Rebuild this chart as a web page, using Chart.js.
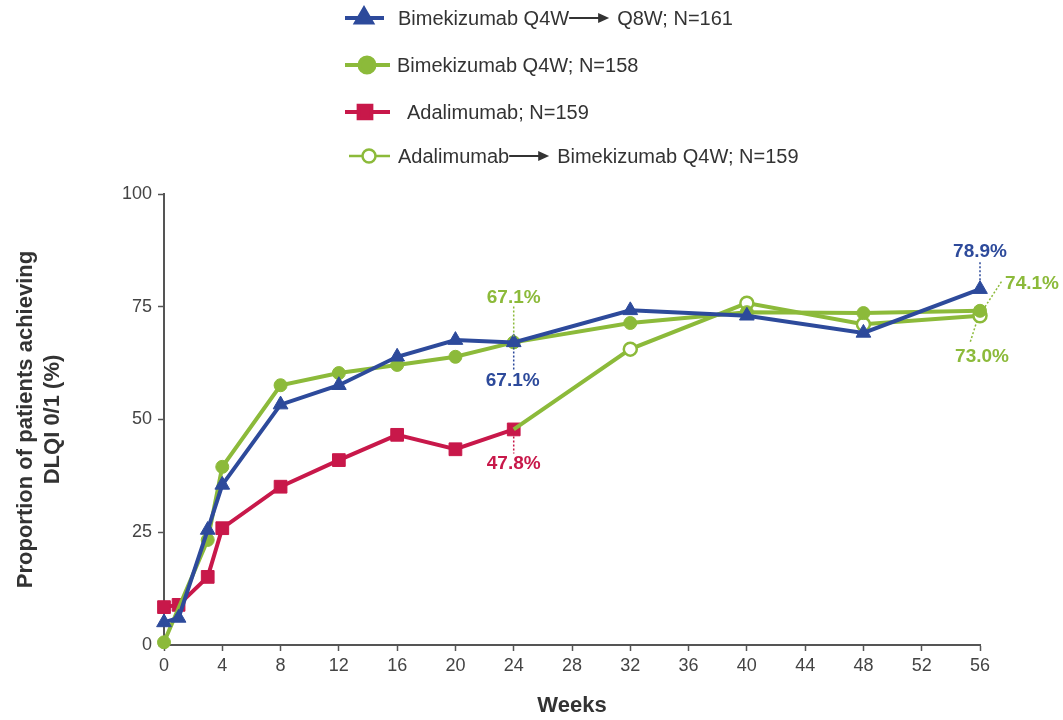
<!DOCTYPE html>
<html lang="en">

<head>
    <meta charset="UTF-8">
    <title>DLQI 0/1</title>
    <script src="https://cdn.jsdelivr.net/npm/chart.js@4.4.1/dist/chart.umd.min.js"></script>
    <style>
        body { margin: 0; background: #fff; }
        #wrap { width: 1063px; height: 720px; }
    </style>
</head>

<body>
    <div id="wrap"><canvas id="mychart" width="1063" height="720"></canvas></div>

    <script>
        // weeks and values
        const weeksBkz = [0, 1, 3, 4, 8, 12, 16, 20, 24, 32, 40, 48, 56];
        const bkzQ8 = [5.0, 6.0, 25.5, 35.5, 53.3, 57.6, 63.9, 67.6, 67.1, 74.2, 73.0, 69.2, 78.9];

        const weeksBkzQ4 = [0, 3, 4, 8, 12, 16, 20, 24, 32, 40, 48, 56];
        const bkzQ4 = [0.6, 23.3, 39.5, 57.6, 60.3, 62.1, 63.9, 67.1, 71.4, 73.8, 73.6, 74.1];

        const weeksAda = [0, 1, 3, 4, 8, 12, 16, 20, 24];
        const ada = [8.4, 8.9, 15.1, 25.9, 35.1, 41.0, 46.6, 43.4, 47.8];

        // switch arm starts from the adalimumab week-24 value
        const weeksSwitch = [24, 32, 40, 48, 56];
        const adaToBkz = [47.8, 65.6, 75.8, 71.1, 73.0];

        const seriesNames = ['Bimekizumab Q4W', 'Bimekizumab Q4W; N=158', 'Adalimumab; N=159', 'Adalimumab'];

        const blue = '#2d4a9b';
        const green = '#8cba3a';
        const red = '#c8184a';
        const txt = '#333333';
        const font = '"Liberation Sans", Arial, sans-serif';

        function pts(w, v) {
            return w.map((x, i) => ({ x: x, y: v[i] }));
        }

        // value labels with dotted leaders (dataset, week, text, offsets)
        const labels = [
            { ds: 1, week: 24, text: '67.1%', color: green, tx: 0, ty: -45, l: [0, -36, 0, -6] },
            { ds: 0, week: 24, text: '67.1%', color: blue, tx: -1, ty: 38, l: [0, 5, 0, 28] },
            { ds: 3, week: 24, text: '47.8%', color: red, tx: 0, ty: 34, l: [0, 7, 0, 24] },
            { ds: 0, week: 56, text: '78.9%', color: blue, tx: 0, ty: -37, l: [0, -27, 0, -9] },
            { ds: 1, week: 56, text: '74.1%', color: green, tx: 52, ty: -27, l: [5, -4, 22, -30] },
            { ds: 2, week: 56, text: '73.0%', color: green, tx: 2, ty: 41, l: [-3, 5, -10, 27] },
        ];

        const valueLabels = {
            id: 'valueLabels',
            afterDatasetsDraw(chart) {
                const ctx = chart.ctx;
                const xs = chart.scales.x, ys = chart.scales.y;
                ctx.save();
                labels.forEach(a => {
                    const d = chart.data.datasets[a.ds].data.find(p => p.x === a.week);
                    const px = xs.getPixelForValue(d.x);
                    const py = ys.getPixelForValue(d.y);
                    ctx.strokeStyle = a.color;
                    ctx.lineWidth = 1.5;
                    ctx.setLineDash([2, 2]);
                    ctx.beginPath();
                    ctx.moveTo(px + a.l[0], py + a.l[1]);
                    ctx.lineTo(px + a.l[2], py + a.l[3]);
                    ctx.stroke();
                    ctx.setLineDash([]);
                    ctx.fillStyle = a.color;
                    ctx.font = 'bold 19px ' + font;
                    ctx.textAlign = 'center';
                    ctx.textBaseline = 'middle';
                    ctx.fillText(a.text, px + a.tx, py + a.ty);
                });
                ctx.restore();
            }
        };

        // vertical legend at the top, drawn by hand
        const legendRows = [
            { ds: 0, y: 18, x1: 345, x2: 384, mx: 364, lw: 4, parts: ['Bimekizumab Q4W', 38, 'Q8W; N=161'], tx: 398 },
            { ds: 1, y: 65, x1: 345, x2: 390, mx: 367, lw: 4, parts: ['Bimekizumab Q4W; N=158'], tx: 397 },
            { ds: 3, y: 112, x1: 345, x2: 390, mx: 365, lw: 4, parts: ['Adalimumab; N=159'], tx: 407 },
            { ds: 2, y: 156, x1: 349, x2: 390, mx: 369, lw: 2.5, parts: ['Adalimumab', 38, 'Bimekizumab Q4W; N=159'], tx: 398 },
        ];

        const topLegend = {
            id: 'topLegend',
            afterDraw(chart) {
                const ctx = chart.ctx;
                ctx.save();
                legendRows.forEach(r => {
                    const ds = chart.data.datasets[r.ds];
                    ctx.strokeStyle = ds.borderColor;
                    ctx.lineWidth = r.lw;
                    ctx.beginPath();
                    ctx.moveTo(r.x1, r.y);
                    ctx.lineTo(r.x2, r.y);
                    ctx.stroke();
                    ctx.fillStyle = ds.pointBackgroundColor;
                    ctx.strokeStyle = ds.pointBorderColor;
                    Chart.helpers.drawPoint(ctx, {
                        pointStyle: ds.pointStyle,
                        radius: ds.legendRadius,
                        borderWidth: ds.pointBorderWidth,
                        rotation: 0
                    }, r.mx, r.y);

                    ctx.font = '20px ' + font;
                    ctx.textAlign = 'left';
                    ctx.textBaseline = 'middle';
                    ctx.fillStyle = txt;
                    let x = r.tx;
                    r.parts.forEach(p => {
                        if (typeof p === 'string') {
                            ctx.fillText(p, x, r.y + 1);
                            x += ctx.measureText(p).width + 2;
                        } else {
                            // arrow
                            ctx.strokeStyle = txt;
                            ctx.lineWidth = 2;
                            ctx.beginPath();
                            ctx.moveTo(x - 2, r.y);
                            ctx.lineTo(x + p - 9, r.y);
                            ctx.stroke();
                            ctx.beginPath();
                            ctx.moveTo(x + p, r.y);
                            ctx.lineTo(x + p - 11, r.y - 5);
                            ctx.lineTo(x + p - 11, r.y + 5);
                            ctx.closePath();
                            ctx.fill();
                            x += p + 8;
                        }
                    });
                });
                ctx.restore();
            }
        };

        const ctx = document.getElementById('mychart');
        const mychart = new Chart(ctx, {
            type: 'line',
            data: {
                datasets: [{
                    label: seriesNames[0],
                    data: pts(weeksBkz, bkzQ8),
                    borderColor: blue,
                    backgroundColor: blue,
                    pointBackgroundColor: blue,
                    pointBorderColor: blue,
                    pointStyle: 'triangle',
                    pointRadius: 8.5,
                    legendRadius: 9,
                    pointBorderWidth: 1,
                    borderWidth: 4,
                    clip: false,
                }, {
                    label: seriesNames[1],
                    data: pts(weeksBkzQ4, bkzQ4),
                    borderColor: green,
                    backgroundColor: green,
                    pointBackgroundColor: green,
                    pointBorderColor: green,
                    pointStyle: 'circle',
                    pointRadius: 6.5,
                    legendRadius: 7.5,
                    pointBorderWidth: 1,
                    borderWidth: 4,
                    clip: false,
                }, {
                    label: seriesNames[3],
                    data: pts(weeksSwitch, adaToBkz),
                    borderColor: green,
                    backgroundColor: '#ffffff',
                    pointBackgroundColor: '#ffffff',
                    pointBorderColor: green,
                    pointStyle: 'circle',
                    pointRadius: ctx2 => (ctx2.dataIndex === 0 ? 0 : 6.5),
                    legendRadius: 6.5,
                    pointBorderWidth: 2.5,
                    borderWidth: 4,
                    clip: false,
                }, {
                    label: seriesNames[2],
                    data: pts(weeksAda, ada),
                    borderColor: red,
                    backgroundColor: red,
                    pointBackgroundColor: red,
                    pointBorderColor: red,
                    pointStyle: 'rect',
                    pointRadius: 9,
                    legendRadius: 9,
                    pointBorderWidth: 1,
                    borderWidth: 4,
                    clip: false,
                }]
            },
            options: {
                responsive: false,
                animation: false,
                layout: { padding: { top: 194, right: 83, left: 0, bottom: 0 } },
                elements: { line: { tension: 0 } },
                plugins: {
                    legend: { display: false },
                    tooltip: { enabled: false },
                },
                scales: {
                    x: {
                        type: 'linear',
                        min: 0,
                        max: 56,
                        afterFit: s => { s.height = 75; },
                        border: { color: '#555', width: 2 },
                        grid: { drawOnChartArea: false, color: '#555', tickLength: 6, tickWidth: 1.5 },
                        ticks: { stepSize: 4, color: '#444', font: { family: font, size: 18 }, padding: 4 },
                        title: {
                            display: true,
                            text: 'Weeks',
                            color: txt,
                            font: { family: font, size: 22, weight: 'bold' },
                            padding: { top: 0, bottom: 1 }
                        }
                    },
                    y: {
                        min: 0,
                        max: 100,
                        afterFit: s => { s.width = 164; },
                        border: { color: '#555', width: 2 },
                        grid: { drawOnChartArea: false, color: '#555', tickLength: 6, tickWidth: 1.5 },
                        ticks: { stepSize: 25, color: '#444', font: { family: font, size: 18 }, padding: 6 },
                        title: {
                            display: true,
                            text: ['Proportion of patients achieving', 'DLQI 0/1 (%)'],
                            color: txt,
                            font: { family: font, size: 22, weight: 'bold', lineHeight: 1.2 },
                            padding: { top: 13, bottom: 0 }
                        }
                    }
                }
            },
            plugins: [valueLabels, topLegend]
        });
    </script>
</body>

</html>
